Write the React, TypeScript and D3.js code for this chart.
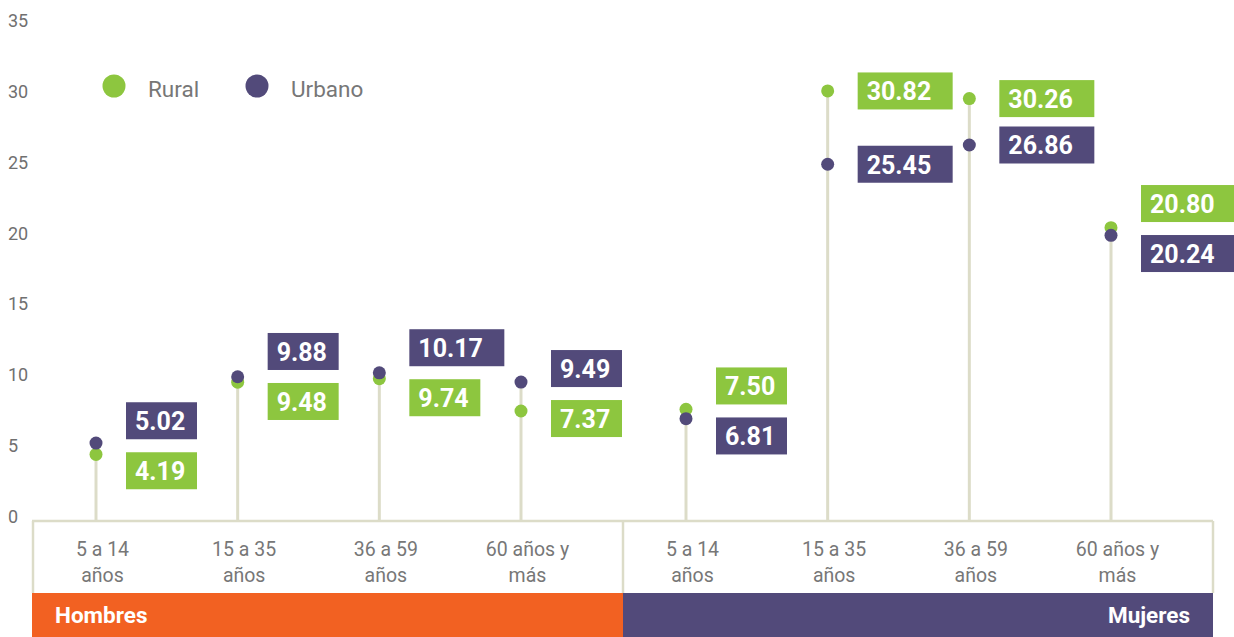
import { useCallback } from "react";
import * as d3 from "d3";

// data
const groups = ["Hombres", "Mujeres"];
const ageCategories = ["5 a 14 años", "15 a 35 años", "36 a 59 años", "60 años y más"];
const ageLabelLines = [["5 a 14", "años"], ["15 a 35", "años"], ["36 a 59", "años"], ["60 años y", "más"]];
const ruralHombres = [4.19, 9.48, 9.74, 7.37];
const urbanoHombres = [5.02, 9.88, 10.17, 9.49];
const ruralMujeres = [7.5, 30.82, 30.26, 20.8];
const urbanoMujeres = [6.81, 25.45, 26.86, 20.24];
const yTicks = [0, 5, 10, 15, 20, 25, 30, 35];
const legendItems = ["Rural", "Urbano"];

const width = 1234;
const height = 637;
const green = "#8dc63f";
const purple = "#524a7a";
const orange = "#f26122";
const frameColor = "#dcdcc8";
const font = "Roboto, 'Open Sans', sans-serif";

const App = () => {
  const draw = useCallback((node: HTMLDivElement | null) => {
    if (node == null) return;
    const root = d3.select(node);
    root.selectAll("*").remove();

    const svg = root
      .append("svg")
      .attr("width", width)
      .attr("height", height)
      .attr("viewBox", [0, 0, width, height].join(" "))
      .style("position", "absolute")
      .style("left", "0px")
      .style("top", "0px")
      .style("font-family", font);

    const baseY = 521;
    const bandTop = 593;
    const yScale = d3.scaleLinear([0, 35], [511.6, 33.9]);
    const tickScale = d3.scaleLinear([0, 35], [523, 27]);
    const fmt = d3.format(".2f");

    // y tick labels
    svg
      .append("g")
      .selectAll("text")
      .data(yTicks)
      .join("text")
      .attr("x", 8)
      .attr("y", (d) => tickScale(d))
      .attr("fill", "#707070")
      .attr("font-size", 18)
      .text((d) => d);

    // legend
    const legend = svg.append("g");
    const legendX = d3.scalePoint(legendItems, [114, 257]);
    legendItems.forEach((name, i) => {
      legend
        .append("circle")
        .attr("cx", legendX(name)!)
        .attr("cy", 86)
        .attr("r", 11.5)
        .attr("fill", i == 0 ? green : purple);
      legend
        .append("text")
        .attr("x", legendX(name)! + 34)
        .attr("y", 97)
        .attr("font-size", 22.5)
        .attr("fill", "#777")
        .text(name);
    });

    const groupData = [
      { name: groups[0], rural: ruralHombres, urbano: urbanoHombres, range: [96, 521], frame: [32, 623], color: orange },
      { name: groups[1], rural: ruralMujeres, urbano: urbanoMujeres, range: [686, 1111], frame: [623, 1213], color: purple },
    ];

    // bottom group bands
    groupData.forEach((g, gi) => {
      svg
        .append("rect")
        .attr("x", g.frame[0])
        .attr("y", bandTop)
        .attr("width", g.frame[1] - g.frame[0])
        .attr("height", height - bandTop)
        .attr("fill", g.color);
      svg
        .append("text")
        .attr("x", gi == 0 ? g.frame[0] + 23 : g.frame[1] - 23)
        .attr("y", 623)
        .attr("text-anchor", gi == 0 ? "start" : "end")
        .attr("fill", "#fff")
        .attr("font-size", 22.5)
        .attr("font-weight", "bold")
        .text(g.name);
    });

    // frame of the x axis
    const frame = svg
      .append("g")
      .attr("stroke", frameColor)
      .attr("stroke-width", 2.5)
      .attr("fill", "none");
    frame
      .append("line")
      .attr("x1", 32)
      .attr("x2", 1213)
      .attr("y1", baseY)
      .attr("y2", baseY);
    [33, 623, 1213].forEach((x) => {
      frame
        .append("line")
        .attr("x1", x)
        .attr("x2", x)
        .attr("y1", baseY)
        .attr("y2", bandTop);
    });

    groupData.forEach((g) => {
      const xScale = d3.scalePoint(ageCategories, g.range);
      const I = d3.range(ageCategories.length);

      // category labels
      const lbl = svg.append("g").attr("fill", "#777").attr("font-size", 19.5).attr("text-anchor", "middle");
      I.forEach((i) => {
        ageLabelLines[i].forEach((line, li) => {
          lbl
            .append("text")
            .attr("x", xScale(ageCategories[i])! + 6.5)
            .attr("y", 556 + li * 26)
            .text(line);
        });
      });

      // stems
      svg
        .append("g")
        .attr("stroke", frameColor)
        .attr("stroke-width", 3)
        .selectAll("line")
        .data(I)
        .join("line")
        .attr("x1", (i) => xScale(ageCategories[i])!)
        .attr("x2", (i) => xScale(ageCategories[i])!)
        .attr("y1", (i) => yScale(Math.max(g.rural[i], g.urbano[i])))
        .attr("y2", baseY);

      // dots (rural first, urbano on top)
      [
        { vals: g.rural, color: green },
        { vals: g.urbano, color: purple },
      ].forEach((s) => {
        svg
          .append("g")
          .attr("fill", s.color)
          .selectAll("circle")
          .data(I)
          .join("circle")
          .attr("cx", (i) => xScale(ageCategories[i])!)
          .attr("cy", (i) => yScale(s.vals[i]))
          .attr("r", 6.5);
      });

      // value boxes: centred on their dot, pushed apart when too close
      I.forEach((i) => {
        const x0 = xScale(ageCategories[i])! + 30;
        const ry = yScale(g.rural[i]);
        const uy = yScale(g.urbano[i]);
        let rc = ry;
        let uc = uy;
        if (Math.abs(ry - uy) < 46) {
          const mid = (ry + uy) / 2 - 3;
          if (ry < uy) {
            rc = mid - 25;
            uc = mid + 25;
          } else {
            uc = mid - 25;
            rc = mid + 25;
          }
        }
        [
          { v: g.rural[i], c: rc, color: green },
          { v: g.urbano[i], c: uc, color: purple },
        ].forEach((b) => {
          const w = b.v >= 10 ? 95 : 71;
          svg
            .append("rect")
            .attr("x", x0)
            .attr("y", b.c - 18.5)
            .attr("width", w)
            .attr("height", 37)
            .attr("fill", b.color);
          svg
            .append("text")
            .attr("x", x0 + 9)
            .attr("y", b.c - 18.5 + 28)
            .attr("fill", "#fff")
            .attr("font-size", 25)
            .attr("font-weight", "bold")
            .text(fmt(b.v));
        });
      });
    });
  }, []);

  return <div ref={draw}></div>;
};

export default App;
